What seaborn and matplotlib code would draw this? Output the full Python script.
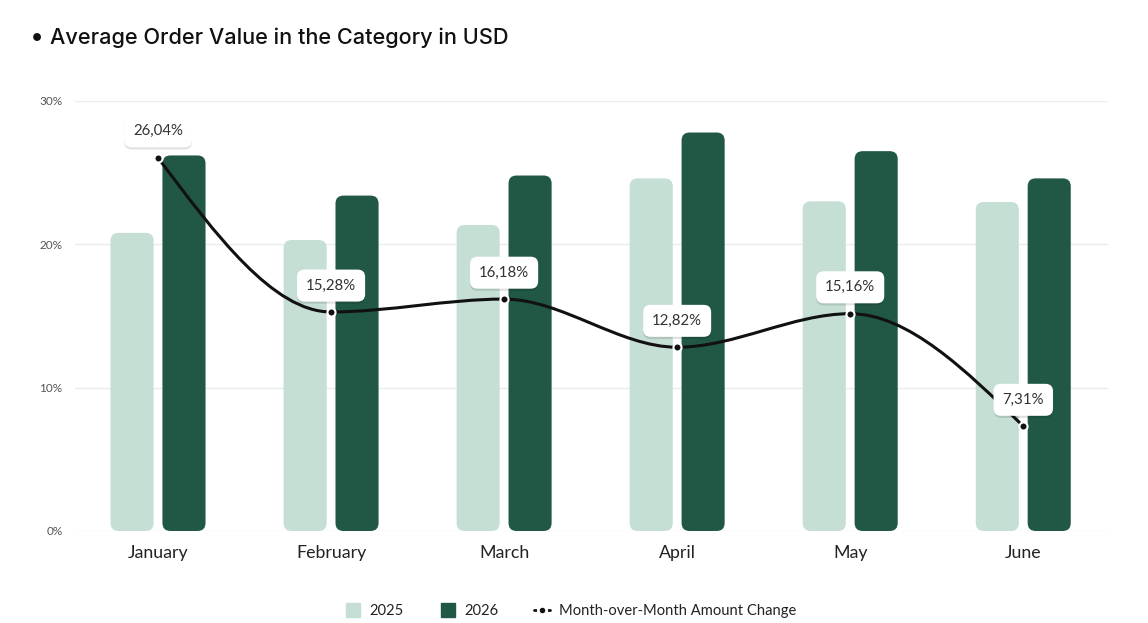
import numpy as np
import pandas as pd
import seaborn as sns
import matplotlib.pyplot as plt
from matplotlib.patches import FancyBboxPatch
from matplotlib.path import Path
from matplotlib.patches import PathPatch
from matplotlib.lines import Line2D
import matplotlib.patheffects as pe

# data
months = ["January", "February", "March", "April", "May", "June"]
aov_2025 = [20.8, 20.3, 21.35, 24.6, 23.0, 22.95]
aov_2026 = [26.2, 23.4, 24.8, 27.8, 26.5, 24.6]
mom_change = [26.04, 15.28, 16.18, 12.82, 15.16, 7.31]
yticks = [0, 10, 20, 30]

light = "#c5dfd5"
dark = "#215745"

sns.set_theme(style="white")
plt.rcParams["font.family"] = ["Lato", "DejaVu Sans"]

tabela = pd.DataFrame({
    "Month": months * 2,
    "Value": aov_2025 + aov_2026,
    "Year": ["2025"] * 6 + ["2026"] * 6,
})

fig = plt.figure(figsize=(11.48, 6.23), dpi=100)
ax = fig.add_axes([0.0653, 0.1477, 0.8999, 0.6902])

sns.barplot(data=tabela, x="Month", y="Value", hue="Year",
            palette=[light, dark], saturation=1, width=0.6, gap=0.17, ax=ax,
            legend=False, errorbar=None, zorder=2)

ax.set_xlim(-0.48, 5.49)
ax.set_ylim(0, 30)

# round the bars
px_x = 173.0
px_y = 430 / 30.0
aspect = px_x / px_y
r = 8 / px_x
for p in list(ax.patches):
    x, y = p.get_x(), p.get_y()
    w, h = p.get_width(), p.get_height()
    fc = p.get_facecolor()
    p.remove()
    ax.add_patch(FancyBboxPatch((x, y), w, h,
                                boxstyle=f"round,pad=0,rounding_size={r}",
                                mutation_aspect=aspect, fc=fc, ec="none", zorder=2))

# smooth monotone line through the points
xs = np.arange(len(mom_change), dtype=float)
ys = np.array(mom_change, dtype=float)
s = np.diff(ys)
m = np.zeros_like(ys)
for k in range(1, len(ys) - 1):
    s0, s1 = s[k - 1], s[k]
    pm = (s0 + s1) / 2
    m[k] = (np.sign(s0) + np.sign(s1)) * min(abs(s0), abs(s1), 0.5 * abs(pm))
m[0] = (3 * s[0] - m[1]) / 2
m[-1] = (3 * s[-1] - m[-2]) / 2
verts = [(xs[0], ys[0])]
codes = [Path.MOVETO]
for k in range(len(ys) - 1):
    verts += [(xs[k] + 1 / 3, ys[k] + m[k] / 3),
              (xs[k + 1] - 1 / 3, ys[k + 1] - m[k + 1] / 3),
              (xs[k + 1], ys[k + 1])]
    codes += [Path.CURVE4] * 3
ax.add_patch(PathPatch(Path(verts, codes), fc="none", ec="#111111", lw=2.2,
                       zorder=4, capstyle="round"))
ax.scatter(xs, ys, s=34, color="#111111", edgecolor="white", linewidth=1.5, zorder=5)

for xi, yi in zip(xs, ys):
    lab = f"{yi:.2f}".replace(".", ",") + "%"
    ann = ax.annotate(lab, (xi, yi), xytext=(0, 19), textcoords="offset points",
                      ha="center", va="center", fontsize=10.8, color="#333333",
                      bbox=dict(boxstyle="round,pad=0.6,rounding_size=0.5",
                                fc="white", ec="none"), zorder=6)
    ann.get_bbox_patch().set_path_effects([
        pe.SimplePatchShadow(offset=(0, -1.5), shadow_rgbFace="#000000", alpha=0.12),
        pe.Normal()])

# axes styling
ax.set_yticks(yticks)
ax.set_yticklabels([f"{t}%" for t in yticks], fontsize=8.5, color="#555555")
ax.tick_params(axis="y", length=0, pad=9)
ax.tick_params(axis="x", length=0, pad=10, labelsize=12.8, labelcolor="#222222")
ax.set_xlabel("")
ax.set_ylabel("")
ax.grid(axis="y", color="#e8eeea", lw=1, zorder=0)
ax.set_axisbelow(True)
for sp in ax.spines.values():
    sp.set_visible(False)

# title
fig.text(0.026, 0.94, "\u2022", fontsize=18, va="center", ha="left", color="#111111",
         family=["Inter", "DejaVu Sans"])
fig.text(0.0435, 0.94, "Average Order Value in the Category in USD", fontsize=15.6,
         va="center", ha="left", color="#111111", family=["Inter", "DejaVu Sans"],
         fontweight="medium")

# legend
handles = [
    Line2D([], [], marker="s", ls="none", markersize=10, color=light),
    Line2D([], [], marker="s", ls="none", markersize=10, color=dark),
    Line2D([], [], color="#111111", lw=2, marker="o", markersize=6,
           markeredgecolor="white", markeredgewidth=2),
]
fig.legend(handles, ["2025", "2026", "Month-over-Month Amount Change"],
           loc="center", bbox_to_anchor=(0.497, 0.019), ncol=3, frameon=False,
           fontsize=10.6, handlelength=1.1, columnspacing=2.4, handletextpad=0.6,
           labelcolor="#222222")

fig.savefig("out.png", dpi=100)
